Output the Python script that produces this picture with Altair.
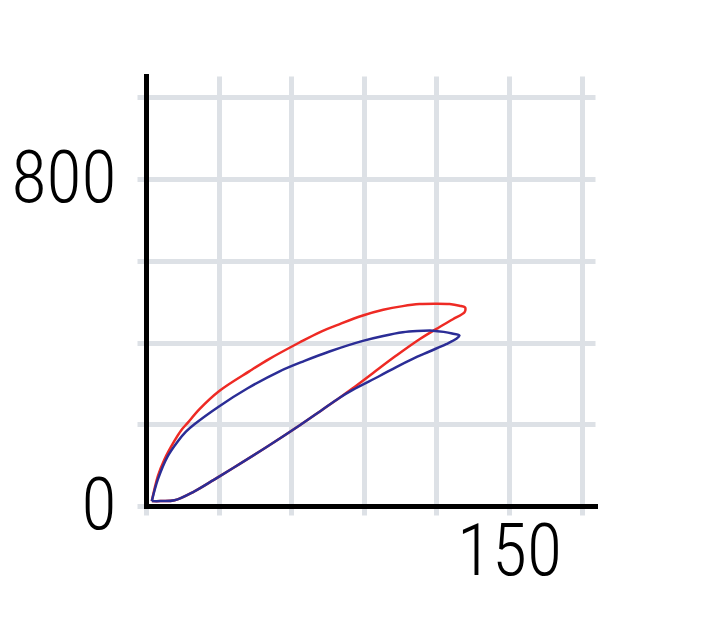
import altair as alt
import pandas as pd

red_x = [2.4, 4.9, 7.6, 11.8, 14.5, 17.3, 22.1, 30.4, 42.8, 51.0, 63.4, 71.7, 80.0, 89.6, 98.0, 106.1, 113.0,
         120.0, 125.4, 129.5, 131.8, 132.0,
         131.6, 126.8, 121.3, 113.0, 103.4, 93.7, 85.4, 80.0, 72.0, 63.4, 50.0, 36.0, 28.0, 20.0, 11.8, 6.0, 2.4]
red_y = [12, 73, 114, 160, 185, 204, 237, 282, 330, 360, 400, 425, 445, 466, 480, 489, 494,
         495, 494, 490, 486, 482,
         474, 457, 438, 408, 368, 325, 288, 265, 232, 197, 145, 93, 64, 36, 14, 12, 12]

blue_x = [2.4, 4.9, 9.0, 13.1, 16.5, 20.0, 30.0, 42.0, 55.0, 65.5, 75.8, 89.6, 98.0, 106.1, 112.0, 118.5,
          123.0, 126.5, 129.5,
          128.2, 124.0, 117.1, 110.2, 103.4, 96.5, 85.4, 80.0, 72.0, 63.4, 50.0, 36.0, 28.0, 20.0, 11.8, 6.0, 2.4]
blue_y = [12, 65, 122, 158, 182, 200, 243, 288, 329, 355, 378, 404, 416, 425, 428, 429,
          426, 422, 417,
          409, 396, 378, 360, 340, 318, 284, 265, 232, 197, 145, 93, 64, 36, 14, 12, 12]

x_ticks = [0, 30, 60, 90, 120, 150, 180]
y_ticks = [0, 200, 400, 600, 800, 1000]

rows = []
for i, (a, b) in enumerate(zip(red_x, red_y)):
    rows.append({"x": a, "y": b, "s": "red", "o": i})
for i, (a, b) in enumerate(zip(blue_x, blue_y)):
    rows.append({"x": a, "y": b, "s": "blue", "o": i})
df = pd.DataFrame(rows)

FONT = "Roboto Condensed, Open Sans Condensed, Liberation Sans Narrow, sans-serif"

chart = alt.Chart(df).mark_line(strokeWidth=2.5, interpolate="catmull-rom").encode(
    x=alt.X("x:Q", scale=alt.Scale(domain=[0, 185.5], nice=False),
            axis=alt.Axis(values=x_ticks, title=None,
                          labelExpr="datum.value == 150 ? '150' : ''",
                          labelPadding=2)),
    y=alt.Y("y:Q", scale=alt.Scale(domain=[0, 1052], nice=False),
            axis=alt.Axis(values=y_ticks, title=None,
                          labelExpr="datum.value == 0 ? '0' : (datum.value == 800 ? '800' : '')",
                          labelPadding=21)),
    color=alt.Color("s:N", scale=alt.Scale(domain=["red", "blue"], range=["#ee2a24", "#2b2d96"]),
                    legend=None),
    detail="s:N",
    order="o:Q",
).properties(
    width=449, height=430,
    autosize=alt.AutoSizeParams(type="none"),
    padding={"left": 138, "top": 68, "right": 100, "bottom": 100},
).configure_view(stroke=None).configure_axis(
    domainColor="black", domainWidth=5, domainCap="square",
    gridColor="#dde1e6", gridWidth=5, gridOpacity=1,
    tickColor="#dde1e6", tickWidth=5, tickSize=9,
    labelFont=FONT, labelFontSize=72, labelColor="black", labelFontWeight=300,
)

chart.save("out.html", embed_options={"renderer": "svg", "actions": False})
